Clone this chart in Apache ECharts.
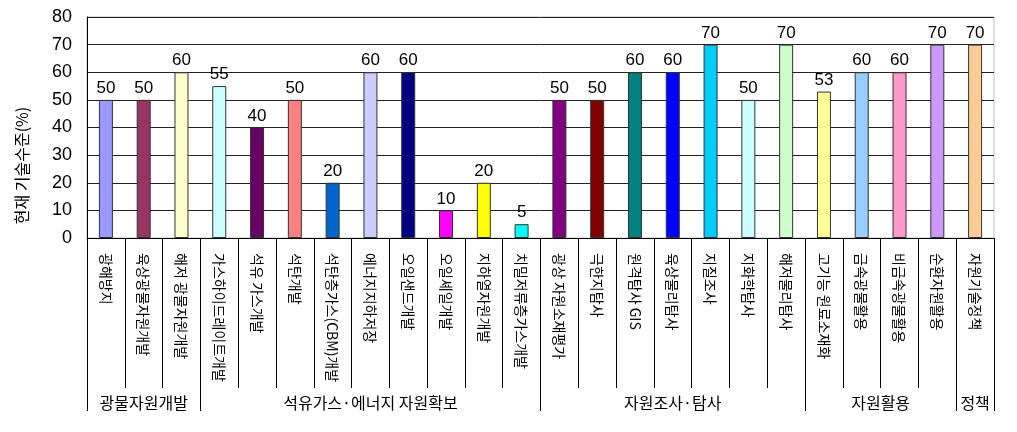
<!DOCTYPE html>
<html>
<head>
<meta charset="utf-8">
<script src="https://cdn.jsdelivr.net/npm/echarts@6/dist/echarts.min.js"></script>
<style>html,body{margin:0;padding:0;background:#fff}#c{width:1017px;height:432px}</style>
</head>
<body>
<div id="c"></div>
<script>
const categories = ["광해방지","육상광물자원개발","해저 광물자원개발","가스하이드레이트개발","석유 가스개발","석탄개발","석탄층가스(CBM)개발","에너지지하저장","오일샌드개발","오일셰일개발","지하열자원개발","치밀저류층가스개발","광상 자원소재평가","극한지탐사","원격탐사 GIS","육상물리탐사","지질조사","지화학탐사","해저물리탐사","고기능 원료소재화","금속광물활용","비금속광물활용","순환자원활용","자원기술정책"];
const values = [50,50,60,55,40,50,20,60,60,10,20,5,50,50,60,60,70,50,70,53,60,60,70,70];
const colors = ["#9999FF","#993366","#FFFFCC","#CCFFFF","#660066","#FF8080","#0066CC","#CCCCFF","#000080","#FF00FF","#FFFF00","#00FFFF","#800080","#800000","#008080","#0000FF","#00CCFF","#CCFFFF","#CCFFCC","#FFFF99","#99CCFF","#FF99CC","#CC99FF","#FFCC99"];
const groupNames = ["광물자원개발","석유가스·에너지 자원확보","자원조사·탐사","자원활용","정책"];
const groupSizes = [3,9,7,4,1];
const yTicks = [0,10,20,30,40,50,60,70,80];

const bounds = [0];
groupSizes.forEach(s => bounds.push(bounds[bounds.length-1] + s));
const centers = groupNames.map((_, i) => (bounds[i] + bounds[i+1]) / 2);

const chart = echarts.init(document.getElementById('c'));
chart.setOption({
  animation: false,
  grid: {left: 87, right: 23, top: 17, bottom: 194, show: true, borderColor: '#c0c0c0', borderWidth: 1},
  xAxis: [{
    type: 'category',
    data: categories,
    axisLine: {lineStyle: {color: '#000', width: 1}},
    axisTick: {show: true, length: 150, lineStyle: {color: '#000'}},
    axisLabel: {interval: 0, rotate: -90, margin: 15, fontSize: 14, color: '#000', fontFamily: 'Noto Sans CJK KR'}
  }, {
    type: 'value',
    min: 0, max: bounds[bounds.length-1],
    position: 'bottom',
    axisLine: {show: false},
    splitLine: {show: false},
    axisTick: {show: true, length: 173, customValues: bounds, lineStyle: {color: '#000'}},
    axisLabel: {customValues: centers, margin: 157, fontSize: 16, color: '#000', fontFamily: 'Noto Sans CJK KR',
      formatter: v => groupNames[centers.indexOf(v)] || ''}
  }],
  yAxis: {
    type: 'value', min: 0, max: 80, interval: 10,
    name: '현재 기술수준(%)',
    nameLocation: 'middle', nameGap: 57, nameRotate: 90,
    nameTextStyle: {fontSize: 16, color: '#000', fontFamily: 'Noto Sans CJK KR', padding: [0, 76, 0, 0]},
    axisLine: {show: true, lineStyle: {color: '#000'}},
    axisTick: {show: false},
    axisLabel: {fontSize: 18, color: '#000', margin: 15, fontFamily: 'Liberation Sans',
      formatter: v => yTicks.includes(v) ? String(v) : ''},
    splitLine: {lineStyle: {color: '#222', width: 1}}
  },
  series: [{
    type: 'bar',
    xAxisIndex: 0,
    barWidth: 14,
    data: values.map((v, i) => ({value: v, itemStyle: {color: colors[i]}})),
    itemStyle: {borderColor: '#333', borderWidth: 1},
    label: {show: true, position: 'top', distance: 3, fontSize: 17, color: '#000', fontFamily: 'Liberation Sans'}
  }]
});
</script>
</body>
</html>
